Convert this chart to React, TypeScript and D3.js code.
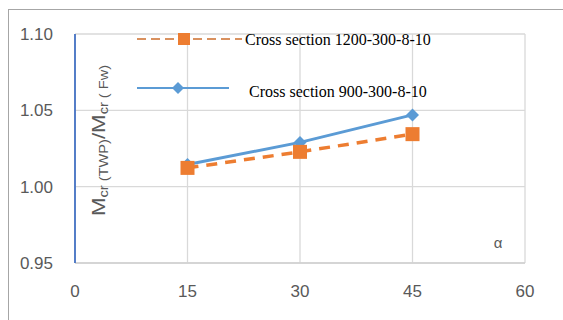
import React from "react";
import * as d3 from "d3";

const alphas = [15, 30, 45];
const series900 = [1.0145, 1.029, 1.047];
const series1200 = [1.0123, 1.0228, 1.0344];
const xTicks = [0, 15, 30, 45, 60];
const yTicks = [0.95, 1.0, 1.05, 1.1];
const legend1200 = "Cross section 1200-300-8-10";
const legend900 = "Cross section 900-300-8-10";

const W = 563;
const H = 320;
const BLUE = "#5B9BD5";
const ORANGE = "#ED7D31";
const GRID = "#D9D9D9";
const TXT = "#595959";
const SANS = "'Liberation Sans', Arial, sans-serif";
const SERIF = "'Liberation Serif', 'Times New Roman', serif";

export default function App() {
  const x = d3.scaleLinear().domain([0, 60]).range([75, 525]);
  const y = d3.scaleLinear().domain([0.95, 1.1]).range([263, 34]);
  const line = d3
    .line<number>()
    .x((_, i) => x(alphas[i]))
    .y((d) => y(d));
  const diamond = (cx: number, cy: number, r: number) =>
    `M${cx},${cy - r}L${cx + r},${cy}L${cx},${cy + r}L${cx - r},${cy}Z`;

  return (
    <svg
      width={W}
      height={H}
      style={{ position: "absolute", left: 0, top: 0, background: "#fff" }}
    >
      <rect x={0} y={0} width={W} height={H} fill="#fff" />
      <rect x={8.5} y={9.5} width={W + 20} height={H + 20} fill="none" stroke="#A6A6A6" strokeWidth={1} />
      {/* gridlines */}
      {yTicks.map((t) => (
        <line key={"gy" + t} x1={x(0)} x2={x(60)} y1={y(t)} y2={y(t)} stroke={GRID} strokeWidth={1.3} />
      ))}
      {xTicks.map((t) => (
        <line key={"gx" + t} x1={x(t)} x2={x(t)} y1={y(1.1)} y2={y(0.95)} stroke={GRID} strokeWidth={1.3} />
      ))}
      {/* axes */}
      <line x1={x(0)} x2={x(60)} y1={y(0.95)} y2={y(0.95)} stroke="#D0D0D0" strokeWidth={1.5} />
      <line x1={x(0)} x2={x(0)} y1={y(1.1)} y2={y(0.95)} stroke="#4472C4" strokeWidth={1.8} />
      {/* tick labels */}
      {yTicks.map((t) => (
        <text key={"ty" + t} x={53} y={y(t)} dy="0.36em" textAnchor="end" fontFamily={SANS} fontSize={17} fill={TXT}>
          {d3.format(".2f")(t)}
        </text>
      ))}
      {xTicks.map((t) => (
        <text key={"tx" + t} x={x(t)} y={297} textAnchor="middle" fontFamily={SANS} fontSize={17} fill={TXT}>
          {t}
        </text>
      ))}
      {/* series 900 */}
      <path d={line(series900) || ""} fill="none" stroke={BLUE} strokeWidth={3} />
      {series900.map((v, i) => (
        <path key={"d" + i} d={diamond(x(alphas[i]), y(v), 6.5)} fill={BLUE} />
      ))}
      {/* series 1200 */}
      <path d={line(series1200) || ""} fill="none" stroke={ORANGE} strokeWidth={3.5} strokeDasharray="11,8" />
      {series1200.map((v, i) => (
        <rect key={"s" + i} x={x(alphas[i]) - 7} y={y(v) - 7} width={14} height={14} fill={ORANGE} />
      ))}
      {/* legend */}
      <line x1={137} x2={242} y1={39} y2={39} stroke="#D9915F" strokeWidth={2} strokeDasharray="9,5" />
      <rect x={178} y={33} width={12} height={12} fill={ORANGE} />
      <text x={245} y={44.5} fontFamily={SERIF} fontSize={16} fill="#000">
        {legend1200}
      </text>
      <line x1={137} x2={229} y1={88} y2={88} stroke={BLUE} strokeWidth={2} />
      <path d={diamond(178, 88, 6)} fill={BLUE} />
      <text x={249} y={97} fontFamily={SERIF} fontSize={16} fill="#000">
        {legend900}
      </text>
      {/* y axis title */}
      <text
        transform={`translate(105,216) rotate(-90) scale(1.17,1)`}
        fontFamily={SANS}
        fontSize={19}
        fill={TXT}
      >
        <tspan>M</tspan>
        <tspan fontSize={12.5} dy={3}>cr (TWP)</tspan>
        <tspan dy={-3}>/M</tspan>
        <tspan fontSize={12.5} dy={3}>cr ( Fw)</tspan>
      </text>
      {/* alpha label */}
      <text x={498} y={248} textAnchor="middle" fontFamily={SANS} fontSize={15} fill={TXT}>
        α
      </text>
    </svg>
  );
}
